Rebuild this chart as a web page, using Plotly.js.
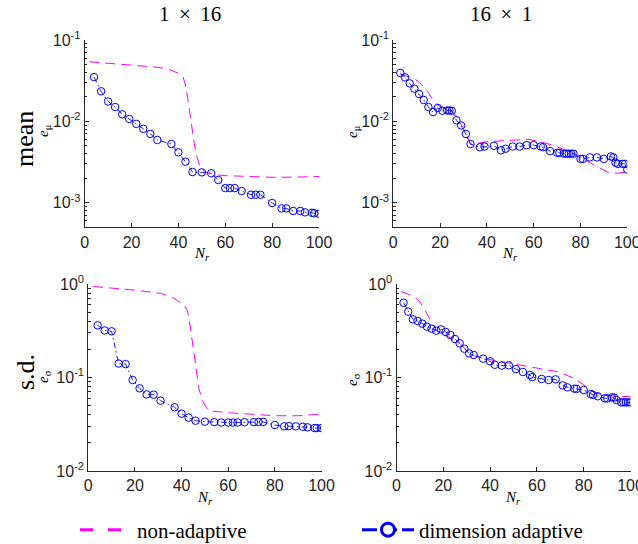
<!DOCTYPE html>
<html>
<head>
<meta charset="utf-8">
<script src="https://cdn.plot.ly/plotly-3.0.1.min.js"></script>
<style>html,body{margin:0;padding:0;background:#fff;}#chart{width:638px;height:544px;}</style>
</head>
<body>
<div id="chart"></div>
<script>
// ---------- data ----------
// 1 x 16 column
const nrAdaptL = [4,7,10,13,16,19,22,25,28,31,37,40,43,46,50,54,57,60,62,64,67,71,73,75,80,84,86,89,92,94,97,98,100];
const meanAdaptL = [0.035,0.0234,0.0175,0.015,0.0122,0.0107,0.0093,0.0081,0.0070,0.0059,0.00526,0.00416,0.00319,0.00238,0.00236,0.0023,0.0019,0.00151,0.00151,0.00151,0.00139,0.00125,0.00125,0.00125,0.00099,0.00085,0.00085,0.00079,0.00079,0.00076,0.00075,0.00074,0.00073];
const nrNonMeanL = [2,10,20,30,35,40,42,43,44,45,46,47,48,49,51,56,60,70,80,90,100];
const meanNonL = [0.054,0.052,0.049,0.0465,0.0445,0.039,0.035,0.028,0.019,0.012,0.0075,0.0048,0.0036,0.0029,0.0024,0.0022,0.00215,0.0021,0.00205,0.00206,0.0021];
const sdAdaptL = [0.361,0.319,0.312,0.141,0.139,0.094,0.0766,0.066,0.0655,0.0565,0.048,0.041,0.0372,0.0345,0.0337,0.0333,0.033,0.033,0.033,0.033,0.0333,0.0333,0.0335,0.0335,0.031,0.030,0.0302,0.030,0.0297,0.0293,0.0288,0.0288,0.0288];
const nrNonSdL = [2,10,20,31,36,41,42.5,43.5,44.5,45.5,46.5,47.5,49,51,52,60,70,80,90,100];
const sdNonL = [0.94,0.9,0.86,0.795,0.72,0.6,0.52,0.38,0.25,0.16,0.11,0.075,0.056,0.046,0.044,0.042,0.0405,0.039,0.039,0.0405];

// 16 x 1 column
const nrAdaptMeanR = [3,5,7,9,11,13,15,17,19,21,23,24,25,27,29,31,33,37,39,43,46,48,51,54,57,60,63,64,67,70,71,73,74,75,76,77,80,81,84,87,90,93,94,95,96,98,99,100];
const meanAdaptR = [0.0393,0.0347,0.0293,0.0252,0.0217,0.0183,0.015,0.013,0.0146,0.0135,0.0136,0.0136,0.0135,0.0103,0.0089,0.0070,0.00526,0.0048,0.0049,0.0050,0.0044,0.0046,0.0049,0.0049,0.0051,0.0051,0.0049,0.0048,0.0043,0.0041,0.0041,0.0040,0.0040,0.0040,0.0040,0.0040,0.00345,0.00345,0.0036,0.0036,0.00345,0.0037,0.0036,0.0031,0.0030,0.0030,0.0030,0.00255];
const nrNonMeanR = [3,6,9,12,15,17,19,21,25,27,29,31,33,36,40,48,58,63,69,73,79,83,88,92,96,100];
const meanNonR = [0.038,0.036,0.0335,0.0285,0.0225,0.018,0.0158,0.0147,0.0134,0.0116,0.0092,0.0072,0.0052,0.0054,0.0056,0.0058,0.006,0.0056,0.005,0.0045,0.00375,0.0032,0.0027,0.00234,0.0023,0.0024];
const nrAdaptSdR = [3,5,7,9,11,13,15,17,19,21,23,25,27,29,31,33,37,40,42,45,48,51,54,57,58,62,65,68,71,73,76,77,80,83,84,86,89,90,92,93,94,96,97,98,99,100];
const sdAdaptR = [0.63,0.506,0.419,0.402,0.377,0.35,0.333,0.317,0.327,0.307,0.285,0.258,0.232,0.203,0.181,0.174,0.159,0.149,0.137,0.134,0.135,0.123,0.1145,0.1064,0.101,0.0964,0.094,0.0955,0.0824,0.0785,0.076,0.0755,0.0735,0.0666,0.065,0.063,0.0599,0.0596,0.0613,0.061,0.0575,0.0542,0.0542,0.0542,0.0542,0.0542];
const nrNonSdR = [2,7,10,15,17,27,32,37,45,58,69,76,81,85,92,100];
const sdNonR = [0.83,0.744,0.647,0.395,0.322,0.232,0.174,0.16,0.148,0.13,0.115,0.098,0.08,0.068,0.0634,0.0624];

const xTicks = [0,20,40,60,80,100];
const yTicksMean = [0.001,0.01,0.1];
const yTextMean = ['10<sup>-3</sup>','10<sup>-2</sup>','10<sup>-1</sup>'];
const yTicksSd = [0.01,0.1,1];
const yTextSd = ['10<sup>-2</sup>','10<sup>-1</sup>','10<sup>0</sup>'];
const colTitles = ['1 \u2009×\u2009 16','16 \u2009×\u2009 1'];
const rowTitles = ['mean','s.d.'];
const seriesNames = ['non-adaptive','dimension adaptive'];

// ---------- styling ----------
const MAG = '#FF00FF', BLU = '#0000FF', AX = '#262626';
const W = 638, H = 544;
const SERIF = 'Liberation Serif';
const SANS = 'Liberation Sans';

function minorVals(lo, hi){ const v=[]; for(let e=lo;e<hi;e++){ for(let k=2;k<=9;k++) v.push(k*Math.pow(10,e)); } return v; }

function nonTrace(x,y,xa,ya){ return {x:x,y:y,xaxis:xa,yaxis:ya,type:'scatter',mode:'lines',showlegend:false,
  line:{color:MAG,width:1,dash:'10px,6px'},hoverinfo:'skip'}; }
function adTrace(x,y,xa,ya){ return {x:x,y:y,xaxis:xa,yaxis:ya,type:'scatter',mode:'lines+markers',showlegend:false,
  line:{color:BLU,width:0.9,dash:'6px,3px,1.5px,3px'},marker:{symbol:'circle-open',size:7.5,color:BLU,line:{width:1,color:BLU}},hoverinfo:'skip'}; }

const data = [
  nonTrace(nrNonMeanL, meanNonL, 'x','y'),
  adTrace(nrAdaptL, meanAdaptL, 'x','y'),
  nonTrace(nrNonMeanR, meanNonR, 'x2','y2'),
  adTrace(nrAdaptMeanR, meanAdaptR, 'x2','y2'),
  nonTrace(nrNonSdL, sdNonL, 'x3','y3'),
  adTrace(nrAdaptL, sdAdaptL, 'x3','y3'),
  nonTrace(nrNonSdR, sdNonR, 'x4','y4'),
  adTrace(nrAdaptSdR, sdAdaptR, 'x4','y4'),
  // legend entries
  {x:[null],y:[null],xaxis:'x',yaxis:'y',type:'scatter',mode:'lines',name:seriesNames[0],showlegend:true,
   line:{color:MAG,width:3,dash:'13px,15px'}},
  {x:[null],y:[null],xaxis:'x',yaxis:'y',type:'scatter',mode:'lines+markers',name:seriesNames[1],showlegend:true,
   line:{color:BLU,width:3,dash:'15px,5px'},marker:{symbol:'circle',size:13,color:'#fff',line:{width:3,color:BLU}}}
];

function xa(d, anchor){ return {domain:d,anchor:anchor,range:[0,100],tickvals:xTicks,ticks:'inside',ticklen:4,tickcolor:AX,
  showline:true,linecolor:AX,linewidth:1,showgrid:false,zeroline:false,ticklabeloverflow:'allow',
  tickfont:{family:SANS,size:16,color:AX}}; }
function ya(d, anchor, r, tv, tt, lo, hi){ return {domain:d,anchor:anchor,type:'log',range:r,tickmode:'array',tickvals:tv,ticktext:tt,
  ticks:'inside',ticklen:4,tickcolor:AX,showline:true,linecolor:AX,linewidth:1,showgrid:false,zeroline:false,
  tickfont:{family:SANS,size:16,color:AX},
  minor:{tickmode:'array',tickvals:minorVals(lo,hi),ticks:'inside',ticklen:2.5,tickcolor:AX,showgrid:false}}; }

const topY = [1-227.3/H, 1-40/H], botY = [1-471/H, 1-284/H];
function ann(text,px,py,size,angle){ return {text:text,x:px/W,y:1-py/H,xref:'paper',yref:'paper',xanchor:'center',yanchor:'middle',
  showarrow:false,textangle:angle||0,font:{family:SERIF,size:size,color:'#000'}}; }

const layout = {
  width:W,height:H,margin:{l:0,r:0,t:0,b:0,autoexpand:false},paper_bgcolor:'#fff',plot_bgcolor:'#fff',
  font:{family:SERIF,color:'#000'},
  xaxis: xa([84.7/W,319/W],'y'),
  yaxis: ya(topY,'x',[-3.303,-1],yTicksMean,yTextMean,-4,-1),
  xaxis2: xa([393.3/W,627.3/W],'y2'),
  yaxis2: ya(topY,'x2',[-3.303,-1],yTicksMean,yTextMean,-4,-1),
  xaxis3: xa([88.3/W,321.5/W],'y3'),
  yaxis3: ya(botY,'x3',[-2,0],yTicksSd,yTextSd,-2,0),
  xaxis4: xa([396.5/W,630.5/W],'y4'),
  yaxis4: ya(botY,'x4',[-2,0],yTicksSd,yTextSd,-2,0),
  showlegend:true,
  legend:{orientation:'h',x:75/W,y:1-530/H,xanchor:'left',yanchor:'middle',itemwidth:52,entrywidth:215,entrywidthmode:'pixels',
    font:{family:SERIF,size:21,color:'#000'},bgcolor:'rgba(0,0,0,0)',borderwidth:0},
  annotations:[
    ann(colTitles[0],190,14,21),
    ann(colTitles[1],501,14,21),
    ann(rowTitles[0],24,139,26,-90),
    ann(rowTitles[1],25,372,26,-90),
    ann('<i>e</i><sub>μ</sub>',44,131,15,-90),
    ann('<i>e</i><sub>μ</sub>',353,131,15,-90),
    ann('<i>e</i><sub>σ</sub>',44,377,15,-90),
    ann('<i>e</i><sub>σ</sub>',353,379,15,-90),
    ann('<i>N</i><sub><i>r</i></sub>',202,254,15),
    ann('<i>N</i><sub><i>r</i></sub>',510,254,15),
    ann('<i>N</i><sub><i>r</i></sub>',205,498,15),
    ann('<i>N</i><sub><i>r</i></sub>',513,498,15)
  ]
};
Plotly.newPlot('chart', data, layout, {staticPlot:true, displayModeBar:false});
</script>
</body>
</html>
